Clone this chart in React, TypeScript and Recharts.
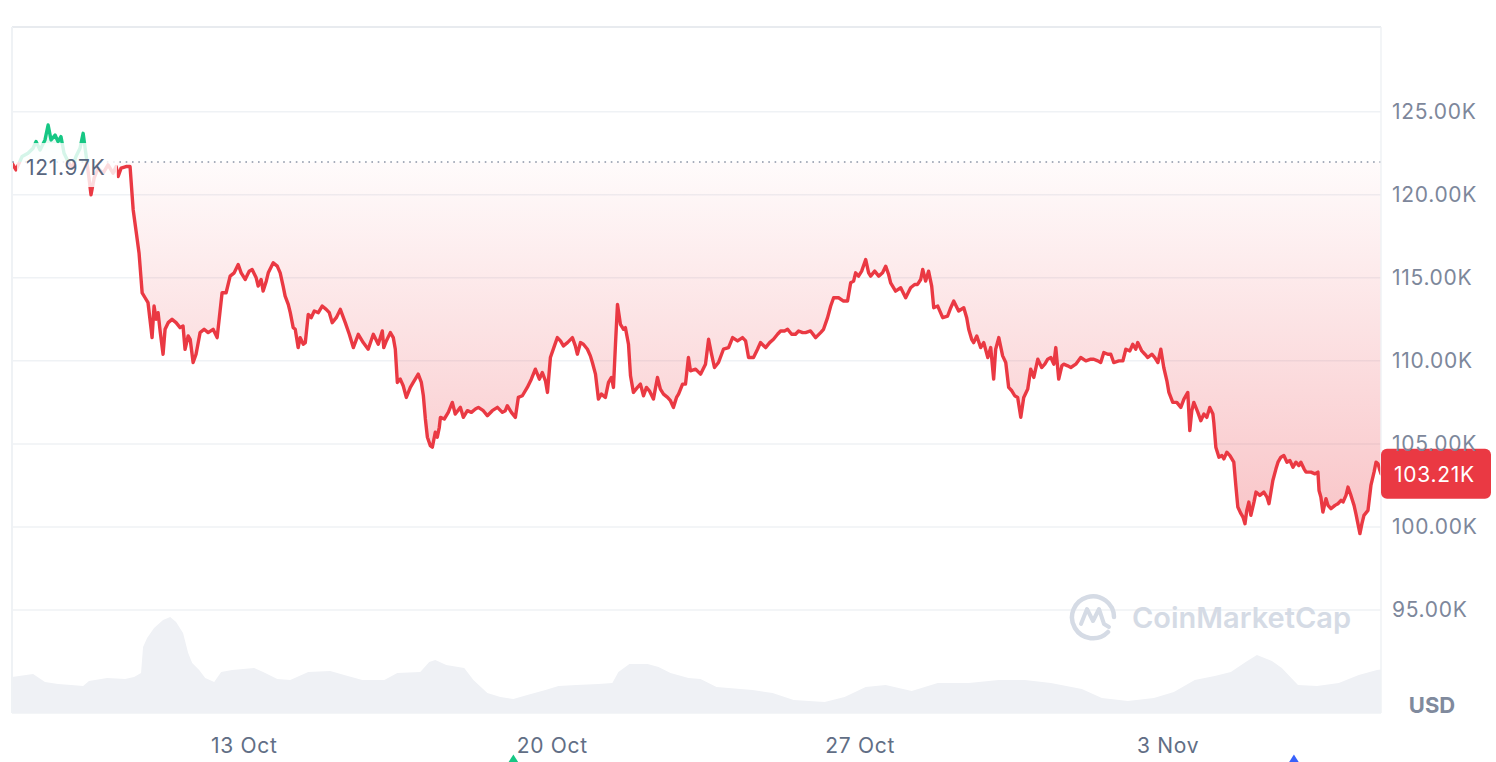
import React from "react";
import {
  ComposedChart,
  Area,
  XAxis,
  YAxis,
  CartesianGrid,
  ReferenceLine,
  ReferenceDot,
} from "recharts";

// time axis: hours since 7 Oct 00:00
const T0 = 17.3;
const T1 = 764.1;

const tickHours = [144, 312, 480, 648];
const tickLabels = ["13 Oct", "20 Oct", "27 Oct", "3 Nov"];
const priceTicks = [95, 100, 105, 110, 115, 120, 125];

const BASE = 121.97;
const LAST_LABEL = "103.21K";
const BASE_LABEL = "121.97K";

// price in thousands USD
const priceTimes = [
  17.3, 19.5, 22.8, 26.0, 28.8, 30.4, 32.6, 35.3, 37.0, 38.6, 40.8, 42.4, 44.0, 45.7, 47.9, 50.1, 52.2, 54.4, 56.1, 57.7,
  59.3, 60.4, 62.1, 64.2, 67.0, 69.7, 72.4, 74.1, 75.2, 76.8, 79.5, 81.7, 83.4, 85.0, 86.6, 88.3, 89.9, 91.5, 93.2, 93.7,
  94.8, 95.9, 97.0, 98.1, 99.7, 100.8, 102.5, 104.6, 106.8, 109.0, 110.6, 111.7, 113.4, 114.5, 116.1, 117.7, 119.9, 122.1, 124.3, 127.0,
  129.2, 130.8, 131.9, 134.1, 136.3, 138.5, 140.7, 142.3, 144.5, 146.7, 148.3, 150.5, 151.6, 153.2, 154.3, 156.0, 157.1, 159.8, 162.0, 163.6,
  165.2, 166.3, 168.0, 169.1, 170.7, 171.8, 173.4, 174.5, 176.2, 177.3, 178.9, 180.5, 182.2, 184.4, 186.5, 188.7, 190.4, 192.0, 194.2, 196.4,
  199.1, 201.3, 203.5, 206.2, 208.9, 211.6, 214.4, 217.1, 219.3, 220.1, 221.5, 223.7, 225.3, 226.4, 227.5, 229.1, 230.7, 232.4, 234.6, 236.2,
  238.9, 240.6, 241.7, 242.8, 243.9, 245.5, 246.6, 248.2, 249.3, 250.4, 251.0, 253.1, 255.3, 257.5, 259.1, 261.9, 263.5, 265.7, 267.9, 270.1,
  271.7, 274.4, 276.6, 279.3, 282.1, 284.8, 286.4, 287.5, 289.7, 291.9, 293.5, 295.7, 298.4, 300.6, 302.8, 305.0, 306.6, 308.3, 309.4, 311.0,
  313.2, 314.8, 316.5, 318.1, 320.3, 323.0, 324.6, 325.7, 327.4, 329.0, 331.2, 332.8, 333.9, 335.6, 337.2, 338.8, 341.0, 342.7, 344.3, 345.4,
  346.5, 347.6, 349.2, 350.9, 351.9, 353.6, 354.7, 356.3, 358.5, 360.1, 361.8, 363.4, 365.0, 367.2, 369.4, 371.0, 372.7, 374.9, 376.5, 378.1,
  379.8, 380.9, 383.1, 384.7, 386.3, 387.4, 390.2, 392.9, 395.6, 397.3, 398.9, 400.5, 402.7, 405.4, 408.2, 410.4, 413.1, 415.8, 417.5, 419.1,
  421.8, 424.0, 425.6, 428.4, 430.6, 432.7, 434.9, 436.6, 438.7, 440.4, 442.6, 444.7, 446.4, 448.6, 450.2, 452.9, 455.7, 458.4, 460.0, 462.2,
  463.9, 465.5, 468.2, 470.9, 473.1, 474.8, 476.4, 477.5, 479.1, 480.8, 483.0, 484.6, 485.7, 487.9, 490.1, 492.2, 493.9, 495.5, 496.6, 499.3,
  502.1, 504.8, 507.5, 509.7, 511.3, 513.0, 514.1, 515.7, 517.3, 519.0, 520.1, 522.3, 525.0, 527.7, 529.4, 531.0, 533.7, 536.5, 538.1, 539.2,
  540.8, 541.9, 543.6, 545.7, 547.4, 549.6, 551.2, 552.8, 553.9, 555.6, 557.7, 559.4, 561.0, 562.7, 564.3, 565.9, 567.6, 569.2, 571.4, 573.0,
  574.7, 576.9, 579.0, 580.7, 582.3, 584.0, 585.6, 586.7, 588.3, 590.0, 591.0, 593.2, 594.9, 597.6, 600.3, 603.1, 605.8, 607.4, 609.6, 611.2,
  612.9, 615.1, 616.7, 618.3, 621.1, 623.3, 624.9, 627.1, 628.7, 630.3, 631.4, 633.6, 635.3, 636.9, 639.1, 640.7, 642.4, 644.0, 645.6, 647.3,
  648.4, 650.5, 652.7, 654.9, 656.6, 658.7, 659.8, 660.9, 662.0, 664.2, 665.8, 667.5, 669.1, 670.7, 672.4, 672.9, 674.0, 675.7, 677.3, 678.4,
  680.0, 681.7, 683.8, 684.9, 686.0, 687.7, 688.8, 689.9, 690.9, 692.0, 693.1, 694.8, 695.9, 698.0, 700.2, 701.9, 703.0, 705.1, 706.8, 707.9,
  709.5, 711.1, 712.8, 714.4, 716.1, 717.7, 719.3, 720.4, 722.1, 723.2, 725.9, 728.1, 729.7, 730.3, 731.3, 732.4, 734.1, 735.2, 736.8, 739.0,
  740.6, 742.3, 743.4, 745.0, 746.1, 747.7, 749.4, 750.4, 751.5, 752.6, 753.7, 754.8, 757.0, 758.6, 760.3, 761.4, 762.5, 763.5, 764.1,
];
const priceValues = [
  121.9, 121.5, 122.3, 122.5, 122.8, 123.2, 122.7, 123.3, 124.2, 123.3, 123.6, 123.2, 123.5, 122.5, 122.0, 121.6, 122.3, 122.8, 123.7, 122.4,
  121.0, 120.0, 121.0, 121.6, 121.3, 121.8, 121.3, 121.7, 121.1, 121.6, 121.7, 121.7, 119.1, 117.8, 116.5, 114.1, 113.8, 113.5, 111.9, 111.4,
  113.3, 112.5, 112.9, 111.8, 110.4, 111.9, 112.3, 112.5, 112.3, 112.0, 112.1, 110.7, 111.5, 111.3, 109.9, 110.4, 111.7, 111.9, 111.7, 111.9,
  111.4, 113.0, 114.1, 114.1, 115.1, 115.3, 115.8, 115.3, 114.9, 115.4, 115.5, 115.0, 114.5, 114.9, 114.2, 114.8, 115.3, 115.9, 115.7, 115.3,
  114.5, 113.9, 113.4, 112.9, 112.0, 111.9, 110.8, 111.4, 111.0, 111.1, 112.8, 112.6, 113.0, 112.9, 113.3, 113.1, 112.9, 112.3, 112.6, 113.1,
  112.3, 111.6, 110.8, 111.6, 111.1, 110.7, 111.6, 111.0, 111.8, 110.8, 111.2, 111.7, 111.4, 110.7, 108.7, 108.9, 108.5, 107.8, 108.4, 108.7,
  109.2, 108.7, 107.9, 106.5, 105.4, 104.9, 104.8, 105.7, 105.4, 106.0, 106.6, 106.5, 106.9, 107.5, 106.8, 107.2, 106.6, 107.0, 106.9, 107.1,
  107.2, 107.0, 106.7, 107.0, 107.2, 106.9, 107.0, 107.3, 106.9, 106.6, 107.8, 107.9, 108.4, 108.9, 109.5, 108.9, 109.3, 108.8, 108.1, 110.2,
  110.9, 111.4, 111.2, 110.9, 111.1, 111.4, 110.9, 110.4, 111.1, 111.0, 110.7, 110.3, 109.9, 109.2, 107.7, 108.0, 107.8, 108.7, 109.0, 108.4,
  111.0, 113.4, 112.2, 111.9, 112.0, 111.0, 109.1, 108.1, 108.4, 108.6, 107.9, 108.4, 108.2, 107.7, 109.0, 108.3, 108.0, 107.8, 107.6, 107.2,
  107.8, 108.0, 108.6, 108.6, 110.2, 109.4, 109.5, 109.2, 109.8, 111.3, 110.4, 109.6, 109.9, 110.7, 110.8, 111.4, 111.2, 111.4, 111.2, 110.2,
  110.2, 110.7, 111.1, 110.8, 111.1, 111.3, 111.6, 111.8, 111.8, 111.9, 111.6, 111.6, 111.8, 111.7, 111.7, 111.8, 111.4, 111.7, 111.9, 112.6,
  113.3, 113.8, 113.8, 113.6, 113.6, 114.7, 114.8, 115.3, 115.1, 115.4, 116.1, 115.3, 115.1, 115.4, 115.1, 115.3, 115.7, 115.2, 114.7, 114.2,
  114.4, 113.8, 114.4, 114.6, 114.6, 114.9, 115.5, 114.8, 115.4, 114.5, 113.2, 113.3, 112.6, 112.7, 113.2, 113.6, 113.0, 113.2, 112.6, 111.9,
  111.3, 111.1, 111.5, 110.8, 111.1, 110.2, 110.8, 108.9, 110.7, 111.4, 110.3, 109.9, 108.4, 108.2, 107.9, 107.8, 106.6, 107.8, 108.3, 109.5,
  109.0, 110.1, 109.6, 109.8, 110.1, 110.2, 109.8, 110.8, 108.9, 109.7, 109.8, 109.7, 109.6, 109.8, 110.2, 110.0, 110.1, 110.1, 110.0, 109.9,
  110.5, 110.4, 110.4, 109.9, 110.0, 110.0, 110.7, 110.6, 111.0, 110.7, 111.1, 110.6, 110.4, 110.2, 110.4, 110.2, 109.9, 110.7, 109.6, 108.8,
  108.1, 107.5, 107.5, 107.2, 107.7, 108.1, 105.8, 107.0, 107.5, 106.9, 106.4, 106.8, 106.6, 107.2, 106.8, 106.3, 104.8, 104.2, 104.3, 104.1,
  104.5, 104.3, 103.9, 102.5, 101.2, 100.8, 100.6, 100.2, 101.0, 101.5, 100.7, 101.5, 102.1, 101.9, 102.1, 101.8, 101.4, 102.8, 103.5, 103.9,
  104.2, 104.3, 103.9, 104.0, 103.6, 103.9, 103.7, 103.9, 103.5, 103.3, 103.3, 103.2, 103.3, 102.2, 101.8, 100.9, 101.7, 101.3, 101.1, 101.3,
  101.4, 101.6, 101.5, 101.9, 102.4, 101.9, 101.3, 100.8, 100.2, 99.6, 100.2, 100.7, 101.0, 102.5, 103.3, 103.9, 103.8, 103.4, 103.21,
];

// 24h volume, billions USD
const volTimes = [
  17.3, 28.8, 35.3, 42.4, 49.5, 56.1, 59.3, 69.2, 79.0, 83.9, 87.7, 88.8, 91.0, 94.8, 99.7, 103.6, 106.8, 110.6, 113.4, 115.6,
  119.4, 122.7, 127.6, 131.4, 137.4, 149.4, 154.3, 162.0, 169.1, 178.9, 190.9, 198.5, 208.4, 220.4, 227.5, 240.0, 244.9, 248.2, 254.2, 264.0,
  269.0, 276.6, 283.7, 290.8, 298.4, 308.3, 315.4, 325.2, 337.2, 344.8, 348.1, 354.1, 364.0, 370.0, 376.5, 386.3, 392.9, 401.6, 421.3, 432.2,
  443.7, 460.6, 471.5, 483.0, 493.9, 508.1, 522.3, 539.2, 555.6, 569.8, 584.0, 600.9, 611.8, 626.0, 640.2, 651.1, 662.5, 673.4, 682.2, 690.3,
  696.4, 704.6, 710.0, 718.8, 729.2, 741.1, 752.0, 761.9, 764.1,
];
const volValues = [
  14.4, 15.6, 12.4, 11.6, 11.2, 10.8, 12.8, 14.0, 13.6, 14.4, 16.0, 26.4, 30.0, 34.0, 37.2, 38.4, 36.4, 32.0, 24.0, 20.0,
  17.2, 14.0, 12.4, 16.4, 17.2, 18.0, 16.4, 13.6, 13.2, 16.4, 16.8, 15.2, 13.2, 13.2, 16.0, 16.4, 20.4, 21.2, 19.2, 18.0,
  13.2, 8.0, 6.4, 5.6, 7.2, 9.2, 10.8, 11.2, 11.6, 12.0, 16.4, 19.6, 19.6, 18.4, 16.0, 14.0, 13.6, 10.4, 9.2, 8.0,
  5.2, 4.4, 6.4, 10.4, 11.2, 8.8, 12.0, 12.0, 13.2, 13.2, 12.0, 9.6, 6.0, 4.8, 6.0, 8.4, 13.2, 14.8, 16.4, 20.4,
  23.2, 20.8, 18.0, 11.2, 10.8, 12.0, 15.2, 17.2, 17.4,
];

// event markers under the axis
const eventTimes = [290.8, 716.6];
const eventColors = ["#16c784", "#3861fb"];

const GREEN = "#16c784";
const RED = "#ea3943";
const GRID = "#eff2f5";
const LABEL_FONT = { fontSize: 21, letterSpacing: 0.7, fontFamily: "Inter" };

const priceData = priceTimes.map((t, i) => ({ t, price: priceValues[i] }));
const volData = volTimes.map((t, i) => ({ t, vol: volValues[i] }));
const pMax = Math.max(...priceValues);
const pMin = Math.min(...priceValues);
const off = (pMax - BASE) / (pMax - pMin);
const lastT = priceTimes[priceTimes.length - 1];
const lastP = priceValues[priceValues.length - 1];

function BaseLabel(props: any) {
  const vb = props.viewBox || {};
  return (
    <g>
      <rect x={vb.x + 5} y={vb.y - 19} width={100} height={44} fill="#fff" fillOpacity={0.82} />
      <text x={vb.x + 14} y={vb.y + 5} dominantBaseline="central" fill="#58667e" {...LABEL_FONT}>
        {BASE_LABEL}
      </text>
    </g>
  );
}

function PriceBadge(props: any) {
  const { cx, cy } = props;
  return (
    <g>
      <rect x={cx} y={cy - 25} width={110} height={50} rx={6} fill={RED} />
      <text x={cx + 13} y={cy + 1} dominantBaseline="central" fill="#fff" {...LABEL_FONT}>
        {LAST_LABEL}
      </text>
    </g>
  );
}

function EventMark(color: string) {
  return (props: any) => {
    const { cx, cy } = props;
    return <path d={`M${cx},${cy - 5} L${cx + 7},${cy + 6} L${cx - 7},${cy + 6} Z`} fill={color} />;
  };
}

export default function App() {
  return (
    <div
      style={{
        position: "absolute",
        left: 0,
        top: 0,
        width: 1496,
        height: 762,
        background: "#fff",
        fontFamily: "Inter, sans-serif",
        overflow: "hidden",
      }}
    >
      <ComposedChart width={1496} height={762} margin={{ top: 27, right: 0, bottom: 0, left: 12 }}>
        <defs>
          <linearGradient id="pStroke" x1="0" y1="0" x2="0" y2="1">
            <stop offset={off} stopColor={GREEN} />
            <stop offset={off} stopColor={RED} />
          </linearGradient>
          <linearGradient id="pFill" x1="0" y1="0" x2="0" y2="1">
            <stop offset={0} stopColor={GREEN} stopOpacity={0.14} />
            <stop offset={off} stopColor={GREEN} stopOpacity={0.04} />
            <stop offset={off} stopColor={RED} stopOpacity={0.02} />
            <stop offset={1} stopColor={RED} stopOpacity={0.3} />
          </linearGradient>
        </defs>
        <CartesianGrid vertical={false} stroke={GRID} strokeWidth={1.5} />
        <XAxis
          dataKey="t"
          type="number"
          domain={[T0, T1]}
          allowDataOverflow
          ticks={tickHours}
          tickFormatter={(v: number) => tickLabels[tickHours.indexOf(v)] ?? ""}
          axisLine={false}
          tickLine={false}
          height={49}
          tickMargin={19}
          tick={{ fill: "#616e85", ...LABEL_FONT }}
          interval={0}
        />
        <YAxis
          orientation="right"
          type="number"
          domain={[88.8, 130.1]}
          allowDataOverflow
          ticks={priceTicks}
          tickFormatter={(v: number) => v.toFixed(2) + "K"}
          width={115}
          axisLine={{ stroke: GRID, strokeWidth: 1.5 }}
          tickLine={false}
          tickMargin={5}
          tick={{ fill: "#7d879b", ...LABEL_FONT }}
          interval={0}
        />
        <YAxis yAxisId="vol" hide domain={[0, 274.4]} />
        <ReferenceLine y={130.1} stroke="#e8ebef" strokeWidth={2} ifOverflow="visible" />
        <ReferenceLine x={T0} stroke={GRID} strokeWidth={2} ifOverflow="visible" />
        <Area
          data={volData}
          dataKey="vol"
          yAxisId="vol"
          type="linear"
          stroke="none"
          fill="#eff1f5"
          fillOpacity={1}
          isAnimationActive={false}
        />
        <Area
          data={priceData}
          dataKey="price"
          type="linear"
          baseValue={BASE}
          stroke="url(#pStroke)"
          strokeWidth={3.4}
          strokeLinejoin="round"
          strokeLinecap="round"
          fill="url(#pFill)"
          fillOpacity={1}
          dot={false}
          activeDot={false}
          isAnimationActive={false}
        />
        <ReferenceLine
          y={BASE}
          stroke="#8b94a6"
          strokeWidth={1.6}
          strokeDasharray="1.6 4.7"
          label={<BaseLabel />}
        />
        <ReferenceDot x={lastT} y={lastP} ifOverflow="visible" shape={<PriceBadge />} />
        {eventTimes.map((t, i) => (
          <ReferenceDot key={i} x={t} y={86.0} ifOverflow="visible" shape={EventMark(eventColors[i])} />
        ))}
      </ComposedChart>

      <div
        style={{
          position: "absolute",
          left: 1068,
          top: 591,
          display: "flex",
          alignItems: "center",
          color: "#d5dbe5",
          pointerEvents: "none",
        }}
      >
        <svg width={52} height={52} viewBox="0 0 52 52">
          <path
            d="M40 41 A21 21 0 1 1 46 26"
            fill="none"
            stroke="#d5dbe5"
            strokeWidth={4.5}
            strokeLinecap="round"
          />
          <path
            d="M13 33 L19 18 L25 30 L31 18 L36 33 L41 36"
            fill="none"
            stroke="#d5dbe5"
            strokeWidth={4}
            strokeLinecap="round"
            strokeLinejoin="round"
          />
        </svg>
        <span style={{ fontSize: 29, fontWeight: 600, marginLeft: 12, letterSpacing: 0 }}>CoinMarketCap</span>
      </div>

      <div
        style={{
          position: "absolute",
          left: 1382,
          width: 100,
          top: 692,
          textAlign: "center",
          fontSize: 22,
          fontWeight: 700,
          color: "#808a9d",
        }}
      >
        USD
      </div>
    </div>
  );
}
